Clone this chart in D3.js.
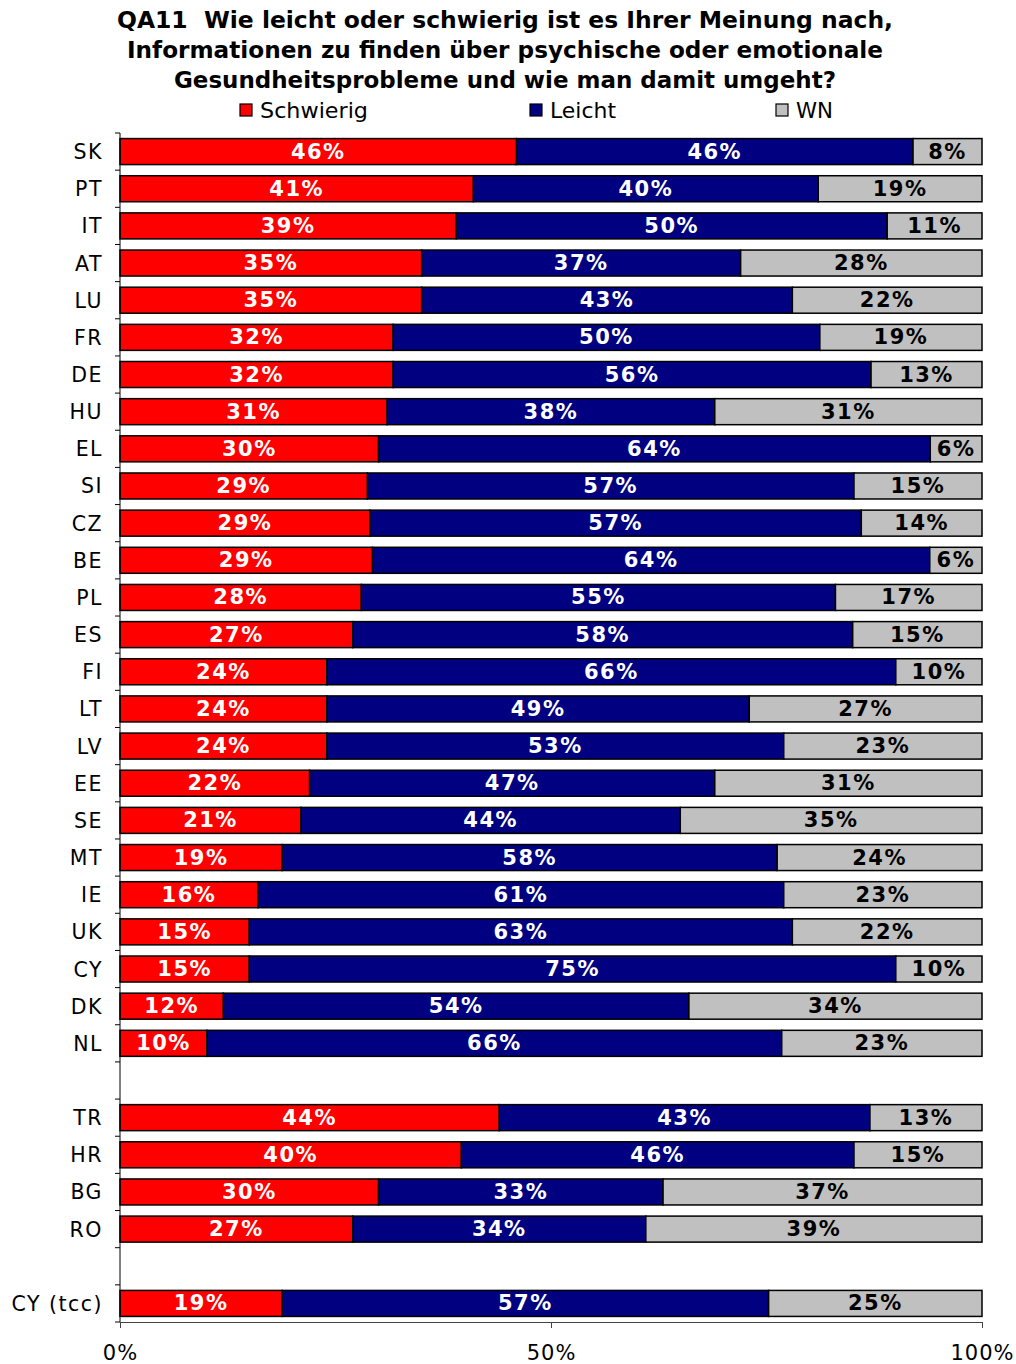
<!DOCTYPE html>
<html>
<head>
<meta charset="utf-8">
<script src="https://cdn.jsdelivr.net/npm/d3@7"></script>
<style>
  body { margin: 0; background: #fff; }
  text { font-family: "DejaVu Sans", Verdana, sans-serif; }
</style>
</head>
<body>
<div id="chart"></div>
<script>
const titleLines = [
  'QA11\u00a0\u00a0Wie leicht oder schwierig ist es Ihrer Meinung nach,',
  'Informationen zu finden über psychische oder emotionale',
  'Gesundheitsprobleme und wie man damit umgeht?'
];
const seriesNames = ['Schwierig', 'Leicht', 'WN'];
const seriesColors = ['#ff0000', '#000080', '#c0c0c0'];
const labelColors = ['#fff', '#fff', '#000'];

// '' = empty row in the chart
const countries = ['SK', 'PT', 'IT', 'AT', 'LU', 'FR', 'DE', 'HU', 'EL', 'SI', 'CZ', 'BE', 'PL', 'ES', 'FI',
  'LT', 'LV', 'EE', 'SE', 'MT', 'IE', 'UK', 'CY', 'DK', 'NL', '', 'TR', 'HR', 'BG', 'RO', '', 'CY (tcc)'];
const schwierig = [46, 41, 39, 35, 35, 32, 32, 31, 30, 29, 29, 29, 28, 27, 24,
  24, 24, 22, 21, 19, 16, 15, 15, 12, 10, null, 44, 40, 30, 27, null, 19];
const leicht = [46, 40, 50, 37, 43, 50, 56, 38, 64, 57, 57, 64, 55, 58, 66,
  49, 53, 47, 44, 58, 61, 63, 75, 54, 66, null, 43, 46, 33, 34, null, 57];
const wn = [8, 19, 11, 28, 22, 19, 13, 31, 6, 15, 14, 6, 17, 15, 10,
  27, 23, 31, 35, 24, 23, 22, 10, 34, 23, null, 13, 15, 37, 39, null, 25];
const xTicks = [0, 50, 100];

const width = 1016;
const height = 1364;
const margin = { left: 120, right: 34, top: 133, bottom: 42 };

const svg = d3.select('#chart')
  .append('svg')
  .attr('width', width)
  .attr('height', height);

// title (widths taken from the original)
const titleWidths = [776, 756, 662];
svg.append('g')
  .selectAll('text')
  .data(titleLines)
  .enter()
  .append('text')
  .attr('x', 505)
  .attr('y', (d, i) => 28 + i * 30)
  .attr('text-anchor', 'middle')
  .attr('font-size', 22.5)
  .attr('font-weight', 'bold')
  .attr('textLength', (d, i) => titleWidths[i])
  .attr('lengthAdjust', 'spacingAndGlyphs')
  .text(d => d);

// legend
const legendX = [240, 530, 776];
const legendWidths = [108, 66, 37];
const legend = svg.append('g')
  .selectAll('g')
  .data(seriesNames)
  .enter()
  .append('g')
  .attr('transform', (d, i) => `translate(${legendX[i]},104)`);

legend.append('rect')
  .attr('width', 12)
  .attr('height', 12)
  .attr('fill', (d, i) => seriesColors[i])
  .attr('stroke', '#000')
  .attr('stroke-width', 1.2);

legend.append('text')
  .attr('x', 20)
  .attr('y', 13.5)
  .attr('font-size', 21)
  .attr('textLength', (d, i) => legendWidths[i])
  .attr('lengthAdjust', 'spacingAndGlyphs')
  .text(d => d);

const rows = countries.map((c, i) => ({
  key: c === '' ? 'gap' + i : c,
  name: c,
  values: [schwierig[i], leicht[i], wn[i]]
}));

const x = d3.scaleLinear()
  .domain([0, 100])
  .range([margin.left, width - margin.right]);

const y = d3.scaleBand()
  .domain(rows.map(d => d.key))
  .range([margin.top, height - margin.bottom])
  .paddingInner(0.3)
  .paddingOuter(0.15);

const step = y.step();

// stacked segments, scaled so every row fills 100%
const segments = [];
rows.filter(r => r.values[0] !== null).forEach(r => {
  const total = d3.sum(r.values);
  let acc = 0;
  r.values.forEach((v, j) => {
    segments.push({ key: r.key, series: j, value: v, x0: acc / total * 100, x1: (acc + v) / total * 100 });
    acc += v;
  });
});

const bars = svg.append('g');

bars.selectAll('rect')
  .data(segments)
  .enter()
  .append('rect')
  .attr('x', d => x(d.x0))
  .attr('y', d => y(d.key))
  .attr('width', d => x(d.x1) - x(d.x0))
  .attr('height', y.bandwidth())
  .attr('fill', d => seriesColors[d.series])
  .attr('stroke', '#000')
  .attr('stroke-width', 1.5);

bars.selectAll('text')
  .data(segments)
  .enter()
  .append('text')
  .attr('x', d => x((d.x0 + d.x1) / 2))
  .attr('y', d => y(d.key) + y.bandwidth() / 2 + 7)
  .attr('text-anchor', 'middle')
  .attr('font-size', 21)
  .attr('font-weight', 'bold')
  .attr('letter-spacing', 1.5)
  .attr('fill', d => labelColors[d.series])
  .text(d => d.value + '%');

// y axis with ticks between rows
const yAxis = svg.append('g');
const y0 = margin.top;
const y1 = height - margin.bottom;

yAxis.append('line')
  .attr('x1', x(0)).attr('x2', x(0))
  .attr('y1', y0).attr('y2', y1)
  .attr('stroke', '#000')
  .attr('stroke-width', 1);

yAxis.selectAll('line.tick')
  .data(d3.range(rows.length + 1))
  .enter()
  .append('line')
  .attr('class', 'tick')
  .attr('x1', x(0) - 5).attr('x2', x(0))
  .attr('y1', i => y0 + i * step).attr('y2', i => y0 + i * step)
  .attr('stroke', '#000');

yAxis.selectAll('text')
  .data(rows.filter(r => r.name !== ''))
  .enter()
  .append('text')
  .attr('x', 103)
  .attr('y', d => y(d.key) + y.bandwidth() / 2 + 7.5)
  .attr('text-anchor', 'end')
  .attr('font-size', 20.5)
  .attr('letter-spacing', 1.5)
  .text(d => d.name);

// x axis
const xAxis = svg.append('g')
  .attr('transform', `translate(0,${y1})`)
  .call(d3.axisBottom(x).tickValues(xTicks).tickSize(6).tickSizeOuter(6).tickFormat(d => d + '%'));

xAxis.select('.domain').attr('stroke', '#444');
xAxis.selectAll('.tick line').attr('stroke', '#444');
xAxis.selectAll('.tick text')
  .attr('font-size', 21)
  .attr('letter-spacing', 1)
  .attr('font-family', '"DejaVu Sans", Verdana, sans-serif')
  .attr('fill', '#000')
  .attr('dy', 0)
  .attr('y', 38);
</script>
</body>
</html>
